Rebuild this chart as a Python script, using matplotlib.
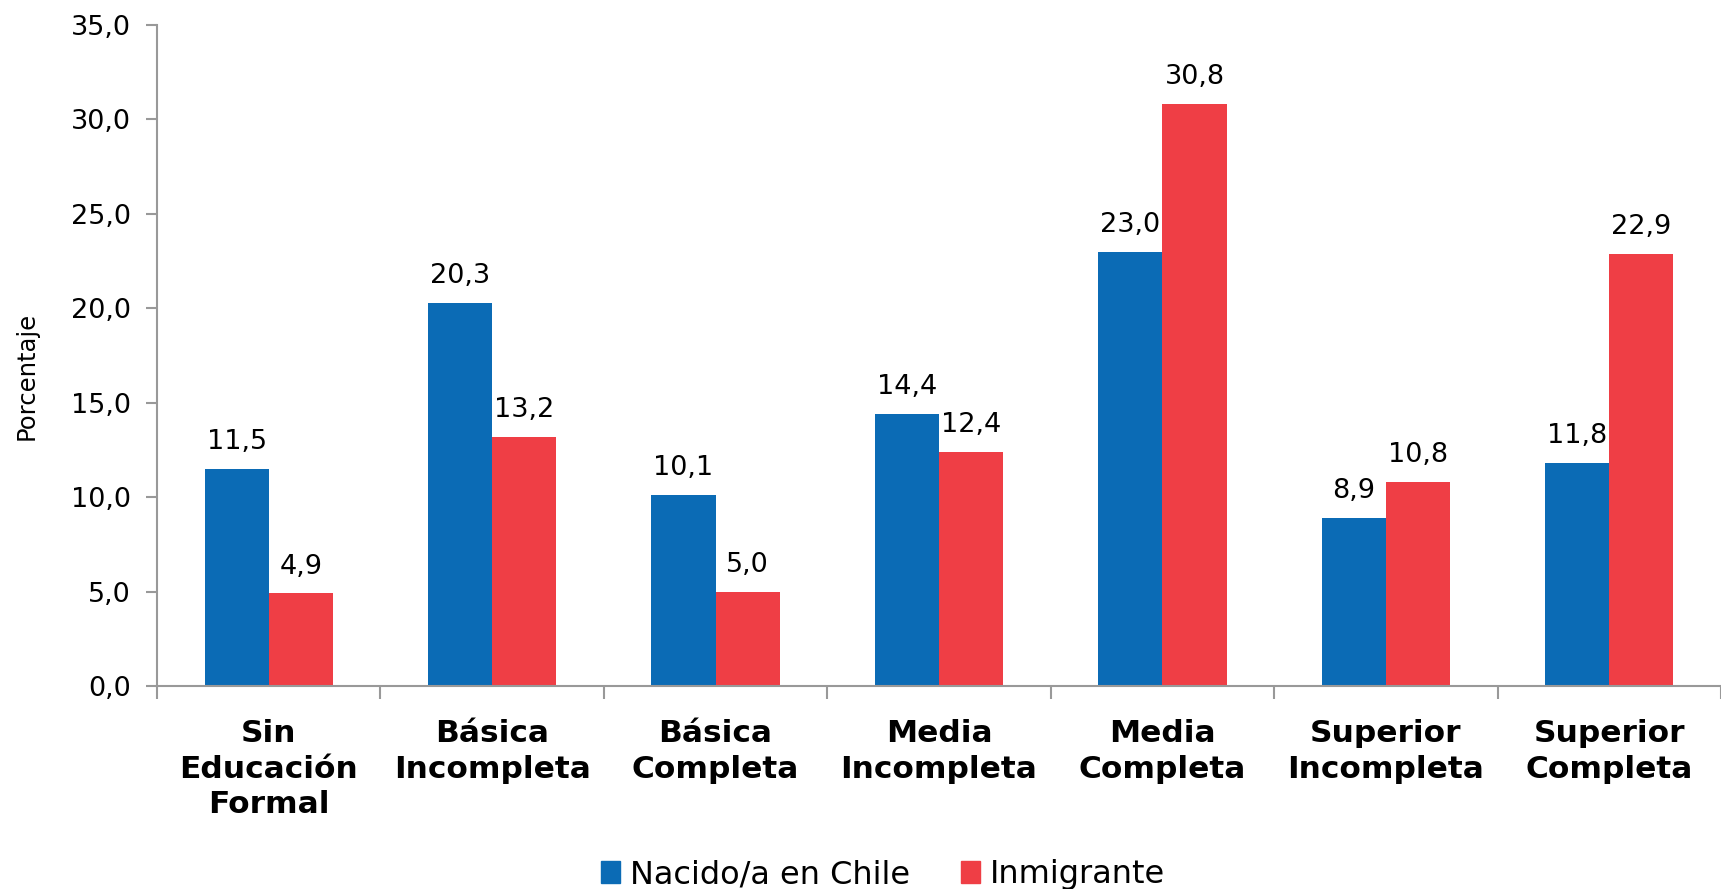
import numpy as np
import matplotlib.pyplot as plt
from matplotlib.patches import Patch

plt.rcParams.update({
    "font.family": "sans-serif",
    "font.sans-serif": ["DejaVu Sans"],
})

categories = ["Sin\nEducación\nFormal", "Básica\nIncompleta", "Básica\nCompleta",
              "Media\nIncompleta", "Media\nCompleta", "Superior\nIncompleta",
              "Superior\nCompleta"]
nacido = [11.5, 20.3, 10.1, 14.4, 23.0, 8.9, 11.8]
inmigrante = [4.9, 13.2, 5.0, 12.4, 30.8, 10.8, 22.9]
series_names = ["Nacido/a en Chile", "Inmigrante"]

blue = "#0B6BB5"
red = "#EF3E45"
axis_grey = "#999999"

fig = plt.figure(figsize=(17.21, 8.89), dpi=100)
ax = fig.add_axes([0.0912, 0.2283, 0.9088, 0.7436])

x = np.arange(len(categories))
w = 0.287
b1 = ax.bar(x - w / 2, nacido, w, color=blue, edgecolor="none")
b2 = ax.bar(x + w / 2, inmigrante, w, color=red, edgecolor="none")

for bars, vals in ((b1, nacido), (b2, inmigrante)):
    for rect, v in zip(bars, vals):
        ax.annotate(f"{v:.1f}".replace(".", ","),
                    (rect.get_x() + rect.get_width() / 2, v),
                    xytext=(0, 10), textcoords="offset points",
                    ha="center", va="bottom", fontsize=19.5)

ax.set_xlim(-0.5, len(categories) - 0.5)
ax.set_ylim(0, 35)
ax.set_yticks(np.arange(0, 35.1, 5))
ax.set_yticklabels([f"{t:.1f}".replace(".", ",") for t in np.arange(0, 35.1, 5)])
ax.set_xticks(np.arange(-0.5, len(categories)), minor=False)
ax.set_xticklabels([])
ax.set_xticks(x, minor=True)
ax.set_xticklabels(categories, minor=True, fontsize=22.5, fontweight="bold",
                   linespacing=1.28)
ax.tick_params(axis="x", which="minor", length=0, pad=24)
ax.tick_params(axis="x", which="major", length=9, width=1.5, color=axis_grey)
ax.tick_params(axis="y", length=8, width=1.5, color=axis_grey, labelsize=19.5, pad=11)

for s in ("top", "right"):
    ax.spines[s].set_visible(False)
for s in ("left", "bottom"):
    ax.spines[s].set_color(axis_grey)
    ax.spines[s].set_linewidth(1.5)

fig.text(0.0155, 0.577, "Porcentaje", rotation=90, ha="center", va="center",
         fontsize=17.5)

handles = [Patch(color=blue), Patch(color=red)]
fig.legend(handles, series_names, loc="center", bbox_to_anchor=(0.513, 0.016),
           ncol=2, frameon=False, fontsize=23, handlelength=0.6, handleheight=0.7,
           handletextpad=0.3, columnspacing=1.6)

plt.savefig("out.png", dpi=100)
